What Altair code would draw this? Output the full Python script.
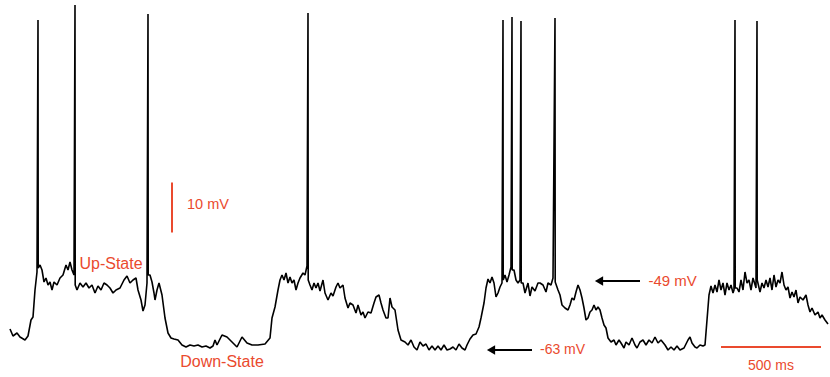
import altair as alt
import pandas as pd

# Membrane potential trace (time in ms, membrane potential in mV)
time_ms = [
    0, 15, 35, 50, 75, 90, 105, 115, 125, 135, 140, 141, 150, 160, 170, 180, 190, 200, 210, 220,
    235, 250, 265, 280, 290, 300, 310, 320, 325, 326, 335, 350, 365, 380, 395, 410, 425, 440, 455, 470,
    485, 500, 515, 530, 550, 570, 585, 600, 615, 630, 640, 655, 665, 675, 685, 690, 691, 700, 710, 720,
    725, 735, 745, 760, 775, 790, 805, 820, 840, 860, 880, 900, 920, 940, 960, 980, 1000, 1015, 1025, 1035,
    1060, 1085, 1110, 1135, 1160, 1185, 1210, 1240, 1275, 1300, 1310, 1325, 1340, 1350, 1360, 1370, 1380, 1390, 1400, 1410,
    1420, 1430, 1440, 1450, 1465, 1475, 1485, 1490, 1491, 1500, 1510, 1520, 1530, 1540, 1550, 1565, 1575, 1590, 1605, 1615,
    1630, 1640, 1650, 1665, 1675, 1690, 1700, 1715, 1730, 1740, 1755, 1765, 1775, 1790, 1805, 1820, 1830, 1845, 1855, 1865,
    1880, 1890, 1900, 1910, 1925, 1940, 1955, 1975, 1990, 2005, 2020, 2035, 2050, 2065, 2080, 2095, 2110, 2125, 2140, 2155,
    2170, 2185, 2200, 2215, 2230, 2245, 2260, 2275, 2285, 2300, 2315, 2330, 2345, 2355, 2370, 2380, 2390, 2400, 2410, 2420,
    2430, 2440, 2450, 2460, 2465, 2466, 2475, 2485, 2495, 2505, 2510, 2511, 2520, 2530, 2540, 2550, 2555, 2556, 2565, 2575,
    2590, 2600, 2610, 2625, 2640, 2650, 2665, 2680, 2690, 2705, 2715, 2725, 2726, 2740, 2750, 2760, 2775, 2790, 2800, 2810,
    2820, 2830, 2840, 2850, 2860, 2870, 2880, 2890, 2900, 2910, 2920, 2930, 2940, 2950, 2960, 2970, 2980, 2990, 3005, 3020,
    3030, 3045, 3055, 3070, 3080, 3095, 3110, 3125, 3135, 3150, 3165, 3180, 3195, 3210, 3225, 3240, 3255, 3275, 3290, 3305,
    3320, 3335, 3350, 3370, 3390, 3400, 3410, 3425, 3435, 3450, 3465, 3475, 3485, 3495, 3505, 3515, 3525, 3535, 3545, 3555,
    3565, 3575, 3585, 3595, 3605, 3615, 3620, 3625, 3626, 3635, 3645, 3655, 3665, 3675, 3685, 3695, 3705, 3715, 3730, 3735,
    3736, 3750, 3760, 3770, 3780, 3790, 3800, 3810, 3820, 3830, 3840, 3850, 3860, 3870, 3880, 3890, 3900, 3910, 3920, 3930,
    3940, 3950, 3965, 3980, 3990, 4000, 4010, 4025, 4040, 4050, 4060, 4075, 4090,
]
vm_mV = [
    -58.8, -60.2, -59.6, -60.4, -61, -60.2, -57, -56.4, -51, -47.4, 3, -46.6, -46, -47, -49.4, -48.6, -50, -49.4, -51, -49.4,
    -50, -48.6, -48, -46, -47, -45.4, -47, -48, 6, -50, -51, -49.6, -50.4, -49.6, -50.6, -50, -51.6, -50.2, -51, -49.6,
    -50, -50.6, -51.6, -51, -50.6, -49, -48.2, -49.6, -49, -48.6, -51, -53, -55.2, -54, -49.6, 4.2, -48, -48, -49.4, -51.6,
    -53, -51, -49.6, -52, -56.6, -59.6, -60.6, -60.8, -61, -62, -62.4, -62, -62.2, -62, -62.4, -62.2, -62.6, -62.2, -61, -62,
    -60, -60.4, -61.4, -62.4, -60.4, -61.6, -62, -62, -61.8, -60.6, -56.6, -54.4, -51, -49, -48, -49, -47.6, -49.6, -48.4, -49.6,
    -49, -51, -49.6, -48.6, -47.6, -48, -46.2, 4.4, -49, -50, -51, -49.6, -50.6, -49.6, -51.2, -49, -51.6, -53, -51.6, -52.2,
    -50.4, -49.6, -50.6, -50, -52.6, -54.6, -53.6, -54, -55.6, -54, -56, -55.4, -56.6, -55.4, -55.6, -53.6, -52.4, -52, -53.6, -55,
    -56.6, -56.6, -52.6, -54.4, -55, -59, -61, -61.4, -62, -61, -62.4, -63, -61.4, -62.2, -61.8, -63, -62.2, -63, -62.2, -63,
    -62, -63, -62.8, -62.4, -63, -61.8, -62.6, -63, -62, -60.8, -60, -59.8, -58.4, -56.6, -53.6, -50.6, -48.8, -49.6, -48.4, -49.6,
    -52.4, -51.6, -50.4, -49.6, 3, -49, -48, -49.4, -48, -46.4, 3.6, -47, -47, -49, -49.6, -49, 2.8, -49.6, -49.6, -51.6,
    -49.6, -52.2, -50.4, -51.2, -49.6, -49.6, -50, -51.4, -49.6, -50, -48.6, 3.4, -49.4, -51, -52, -54, -54.6, -55, -54, -52.6,
    -53, -51.4, -50, -51, -52.6, -54.6, -57, -56.6, -55.4, -55, -54, -55, -54.4, -55, -56.6, -58, -58.6, -60.6, -61.4, -61,
    -62, -61, -61.6, -62.6, -61.4, -62, -60.6, -62, -62.6, -61.4, -61, -62, -61, -61.6, -60.4, -61.6, -61, -62, -63, -62.4,
    -63, -62.2, -63, -62.6, -61, -60.4, -61.6, -62.4, -62.6, -62, -62.2, -62, -57, -52, -50.2, -51.6, -50, -51.4, -49, -51,
    -49.6, -52, -49.6, -51, -50, -51.6, -51, 3, -50.6, -50.6, -51.4, -49, -51, -47.4, -49.6, -49, -51, -48.6, -50.6, 2.8,
    -49, -51.4, -49.6, -50.6, -49, -50.4, -48.6, -51, -48, -50.4, -49, -49.6, -47.4, -50, -51, -50.4, -52.6, -51.4, -52.4, -51,
    -53.6, -52.4, -53, -52, -54, -55.4, -54.6, -56, -55.4, -56.6, -56, -57, -57.8,
]

# Annotation texts and positions (ms, mV)
label_text = ["Up-State", "Down-State", "10 mV", "500 ms", "-63 mV", "-49 mV"]
label_t = [505, 1060, 885, 3805, 2650, 3192]
label_v = [-45.8, -65.3, -34, -66.1, -63, -49.2]
label_align = ["center", "center", "left", "center", "left", "left"]
label_size = [16, 16, 14.5, 14, 14, 15]

arrow_v = [-63, -49.2]
arrow_t_start = [2610, 3150]
arrow_t_end = [2405, 2945]

scalebar_t = [810, 3555]
scalebar_t2 = [810, 4055]
scalebar_v = [-39.5, -62.4]
scalebar_v2 = [-29.5, -62.4]

RED = "#ea4a2e"
FONT = "Liberation Sans"

trace = pd.DataFrame({"t": time_ms, "v": vm_mV, "i": list(range(len(time_ms)))})
labels = pd.DataFrame({"t": label_t, "v": label_v, "text": label_text,
                       "align": label_align, "fs": label_size})
arrows = pd.DataFrame({"v": arrow_v, "t0": arrow_t_start, "t1": arrow_t_end})
bars = pd.DataFrame({"t": scalebar_t, "t2": scalebar_t2, "v": scalebar_v, "v2": scalebar_v2})

xs = alt.Scale(domain=[-50, 4100], nice=False, zero=False)
ys = alt.Scale(domain=[-68.4, 7], nice=False, zero=False)
X = lambda f: alt.X(f, type="quantitative", scale=xs, axis=None)
Y = lambda f: alt.Y(f, type="quantitative", scale=ys, axis=None)

line = alt.Chart(trace).mark_line(color="black", strokeWidth=1.6, strokeJoin="bevel").encode(
    x=X("t"), y=Y("v"), order="i:Q"
)

bar_marks = alt.Chart(bars).mark_rule(color=RED, strokeWidth=2).encode(
    x=X("t"), x2="t2", y=Y("v"), y2="v2"
)

lab_center = alt.Chart(labels[labels["align"] == "center"]).mark_text(
    color=RED, font=FONT, align="center", baseline="middle"
).encode(x=X("t"), y=Y("v"), text="text", size=alt.Size("fs:Q", scale=None, legend=None))

lab_left = alt.Chart(labels[labels["align"] == "left"]).mark_text(
    color=RED, font=FONT, align="left", baseline="middle"
).encode(x=X("t"), y=Y("v"), text="text", size=alt.Size("fs:Q", scale=None, legend=None))

arrow_shaft = alt.Chart(arrows).mark_rule(color="black", strokeWidth=2).encode(
    x=X("t0"), x2="t1", y=Y("v")
)
arrow_head = alt.Chart(arrows).mark_point(
    shape="triangle-left", filled=True, color="black", size=90, opacity=1
).encode(x=X("t1"), y=Y("v"))

chart = alt.layer(line, bar_marks, lab_center, lab_left, arrow_shaft, arrow_head).properties(
    width=830, height=377, padding=0, autosize=alt.AutoSizeParams(type="none"), background="white"
).configure_view(stroke=None)

chart.save("out.html", embed_options={"renderer": "svg", "actions": False})
